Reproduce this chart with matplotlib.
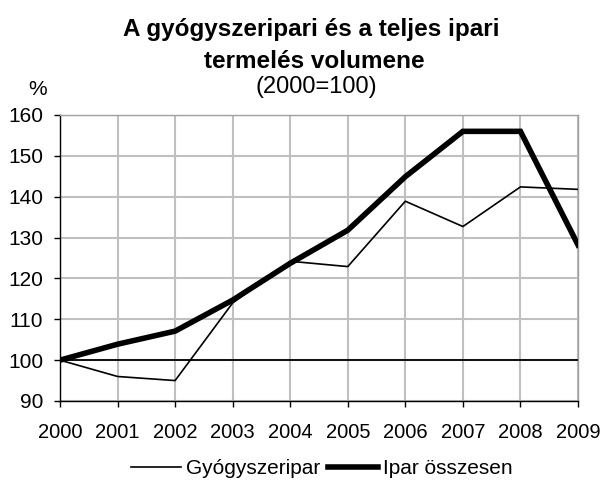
import matplotlib
matplotlib.use('Agg')
import matplotlib.pyplot as plt

plt.rcParams['font.family'] = ['Liberation Sans', 'DejaVu Sans']

years = ['2000', '2001', '2002', '2003', '2004', '2005', '2006', '2007', '2008', '2009']
gyogyszeripar = [100, 96, 95, 114, 124.2, 122.9, 138.9, 132.7, 142.4, 141.8]
ipar_osszesen = [100, 103.9, 107.1, 114.7, 123.7, 131.8, 144.9, 156, 156, 128.2]
base = [100] * len(years)

fig = plt.figure(figsize=(6.04, 4.8), dpi=100)
ax = fig.add_axes([60/604, 1 - 401/480, 518/604, 286/480])

x = list(range(len(years)))
ax.plot(x, base, color='black', linewidth=1.3, zorder=3)
ax.plot(x, gyogyszeripar, color='black', linewidth=1.2, label='Gyógyszeripar', zorder=4)
ax.plot(x, ipar_osszesen, color='black', linewidth=4, label='Ipar összesen',
        solid_joinstyle='miter', zorder=5)

ax.set_xlim(0, len(years) - 1)
ax.set_ylim(90, 160)
ax.set_yticks(range(90, 161, 10))
ax.set_xticks(x)
ax.set_xticklabels(years)
ax.grid(True, color='#c0c0c0', linewidth=1.5)
ax.set_axisbelow(True)

for s in ['top', 'right']:
    ax.spines[s].set_color('#a0a0a0')
    ax.spines[s].set_linewidth(1.0)
for s in ['left', 'bottom']:
    ax.spines[s].set_color('black')
    ax.spines[s].set_linewidth(1.0)

ax.tick_params(axis='both', length=4, width=1, color='black')
ax.tick_params(axis='x', labelsize=14.5, pad=12)
ax.tick_params(axis='y', labelsize=15, pad=8)

# title block (three lines, last one not bold)
fig.text(311/604, 1 - 36/480, 'A gyógyszeripari és a teljes ipari', ha='center', va='baseline',
         fontsize=17.5, fontweight='bold')
fig.text(314/604, 1 - 68/480, 'termelés volumene', ha='center', va='baseline',
         fontsize=17.5, fontweight='bold')
fig.text(316/604, 1 - 93/480, '(2000=100)', ha='center', va='baseline', fontsize=17)
fig.text(38/604, 1 - 95/480, '%', ha='center', va='baseline', fontsize=15)

fig.legend(loc='center', bbox_to_anchor=(322/604, 1 - 469/480), ncol=2, frameon=False,
           fontsize=15, handlelength=2.4, handletextpad=0.25, columnspacing=0.35,
           borderaxespad=0, borderpad=0)

fig.savefig('out.png', dpi=100)
